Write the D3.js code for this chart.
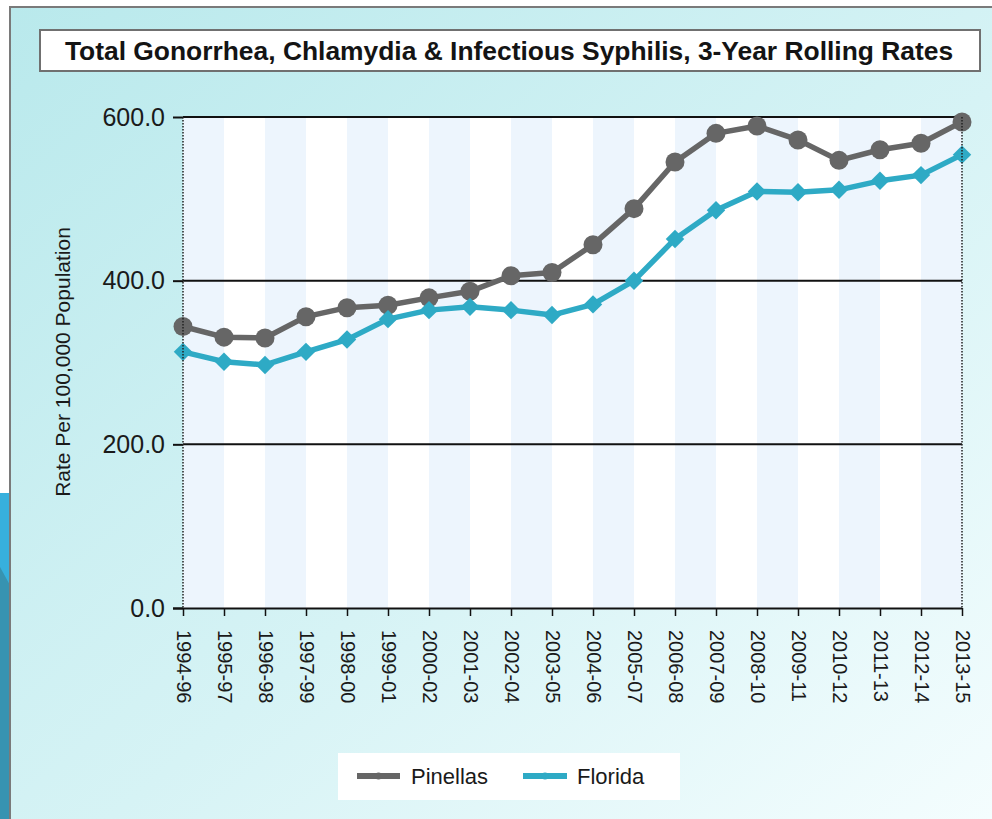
<!DOCTYPE html>
<html>
<head>
<meta charset="utf-8">
<script src="https://cdn.jsdelivr.net/npm/d3@7"></script>
<style>
  html, body { margin: 0; padding: 0; background: #ffffff; }
  svg { display: block; font-family: "Liberation Sans", Arial, sans-serif; }
</style>
</head>
<body>
<svg id="chart" width="992" height="819"></svg>
<script>
const titleText = "Total Gonorrhea, Chlamydia & Infectious Syphilis, 3-Year Rolling Rates";
const yAxisLabel = "Rate Per 100,000 Population";
const categories = ["1994-96","1995-97","1996-98","1997-99","1998-00","1999-01","2000-02","2001-03","2002-04","2003-05","2004-06","2005-07","2006-08","2007-09","2008-10","2009-11","2010-12","2011-13","2012-14","2013-15"];
const pinellas = [344, 331, 330, 356, 367, 370, 379, 387, 406, 410, 444, 488, 545, 580, 589, 572, 547, 560, 568, 594];
const florida  = [313, 301, 297, 313, 328, 353, 364, 368, 364, 358, 371, 400, 451, 486, 509, 508, 511, 522, 529, 554];
const yTicks = [0, 200, 400, 600];
const seriesNames = ["Pinellas", "Florida"];
const seriesColors = ["#666666", "#2eaac5"];

const svg = d3.select("#chart");
const W = 992, H = 819;
const plot = { left: 183, right: 962, top: 117, bottom: 608 };

// defs: background gradient
const defs = svg.append("defs");
const grad = defs.append("linearGradient").attr("id", "bg")
  .attr("x1", "0").attr("y1", "0").attr("x2", "1").attr("y2", "1");
grad.append("stop").attr("offset", "0%").attr("stop-color", "#b9e9ec");
grad.append("stop").attr("offset", "55%").attr("stop-color", "#d6f3f5");
grad.append("stop").attr("offset", "100%").attr("stop-color", "#f4fdfe");

// left decoration outside the frame
svg.append("rect").attr("x", 0).attr("y", 493).attr("width", 11).attr("height", 326).attr("fill", "#37b0dd");
svg.append("path").attr("d", "M0,567 L11,587 L11,819 L0,819 Z").attr("fill", "#3793b1");

// panel
svg.append("rect").attr("x", 11).attr("y", 7).attr("width", W - 11).attr("height", H - 7).attr("fill", "url(#bg)");
svg.append("line").attr("x1", 10).attr("x2", W).attr("y1", 7).attr("y2", 7).attr("stroke", "#7a7a7a").attr("stroke-width", 2);
svg.append("line").attr("x1", 10).attr("x2", 10).attr("y1", 6).attr("y2", H).attr("stroke", "#7a7a7a").attr("stroke-width", 2);

// title box
svg.append("rect").attr("x", 40).attr("y", 30).attr("width", 940).attr("height", 41)
  .attr("fill", "#ffffff").attr("stroke", "#707070").attr("stroke-width", 2);
svg.append("text").attr("x", 509).attr("y", 51).attr("dy", "0.35em").attr("text-anchor", "middle")
  .attr("font-size", 26.4).attr("font-weight", "bold").attr("fill", "#141414").text(titleText);

// scales
const x = d3.scalePoint().domain(categories).range([plot.left, plot.right]);
const y = d3.scaleLinear().domain([0, 600]).range([plot.bottom, plot.top]);

// plot background and stripes
svg.append("rect").attr("x", plot.left).attr("y", plot.top).attr("width", plot.right - plot.left)
  .attr("height", plot.bottom - plot.top).attr("fill", "#ffffff");
const stripeIdx = d3.range(0, categories.length - 1).filter(i => i % 2 === 0);
svg.append("g").selectAll("rect").data(stripeIdx).join("rect")
  .attr("x", i => x(categories[i]))
  .attr("width", i => x(categories[i + 1]) - x(categories[i]))
  .attr("y", plot.top).attr("height", plot.bottom - plot.top)
  .attr("fill", "#edf5fd");

// y axis with gridlines
const yAxis = d3.axisLeft(y).tickValues(yTicks).tickFormat(d3.format(".1f")).tickSize(10).tickPadding(8);
const yg = svg.append("g").attr("transform", `translate(${plot.left},0)`).call(yAxis);
yg.select(".domain").remove();
yg.selectAll(".tick line").attr("stroke", "#111").attr("stroke-width", 2);
yg.selectAll(".tick text").attr("font-size", 25).attr("fill", "#1a1a1a")
  .attr("font-family", "'Liberation Sans', Arial, sans-serif");
svg.append("g").selectAll("line").data(yTicks.filter(d => d > 0)).join("line")
  .attr("x1", plot.left).attr("x2", plot.right)
  .attr("y1", d => y(d)).attr("y2", d => y(d))
  .attr("stroke", "#111").attr("stroke-width", 2);

// x axis
const xAxis = d3.axisBottom(x).tickSize(8).tickSizeOuter(0);
const xg = svg.append("g").attr("transform", `translate(0,${plot.bottom})`).call(xAxis);
xg.select(".domain").attr("stroke", "#111").attr("stroke-width", 2)
  .attr("d", `M${plot.left - 10},0.5H${plot.right}`);
xg.selectAll(".tick line").attr("stroke", "#111").attr("stroke-width", 1.5);
xg.selectAll(".tick text")
  .attr("font-size", 20).attr("fill", "#1a1a1a")
  .attr("font-family", "'Liberation Sans', Arial, sans-serif")
  .attr("text-anchor", "start")
  .attr("transform", "translate(0,22) rotate(90)")
  .attr("x", 0).attr("y", 0).attr("dy", "0.35em");

// y axis label
svg.append("text").attr("transform", "translate(70,362) rotate(-90)")
  .attr("text-anchor", "middle").attr("font-size", 21).attr("fill", "#1a1a1a").text(yAxisLabel);

// series
const line = d3.line().x((d, i) => x(categories[i])).y(d => y(d));
// Pinellas
svg.append("path").datum(pinellas).attr("d", line).attr("fill", "none")
  .attr("stroke", seriesColors[0]).attr("stroke-width", 5.5).attr("stroke-linejoin", "round");
svg.append("g").selectAll("circle").data(pinellas).join("circle")
  .attr("cx", (d, i) => x(categories[i])).attr("cy", d => y(d)).attr("r", 9.5)
  .attr("fill", seriesColors[0]);
// Florida
svg.append("path").datum(florida).attr("d", line).attr("fill", "none")
  .attr("stroke", seriesColors[1]).attr("stroke-width", 5.5).attr("stroke-linejoin", "round");
svg.append("g").selectAll("path").data(florida).join("path")
  .attr("d", d3.symbol().type(d3.symbolSquare).size(170))
  .attr("transform", (d, i) => `translate(${x(categories[i])},${y(d)}) rotate(45)`)
  .attr("fill", seriesColors[1]);

// dotted plot edges
svg.append("g").selectAll("line").data([plot.left, plot.right]).join("line")
  .attr("x1", d => d).attr("x2", d => d).attr("y1", plot.top).attr("y2", plot.bottom)
  .attr("stroke", "#222").attr("stroke-width", 1.5).attr("stroke-dasharray", "1.5,1.5");

// legend
const lg = svg.append("g");
lg.append("rect").attr("x", 338).attr("y", 753).attr("width", 342).attr("height", 47).attr("fill", "#ffffff");
const legendItems = [
  { name: seriesNames[0], color: seriesColors[0], x1: 357, x2: 400, tx: 411 },
  { name: seriesNames[1], color: seriesColors[1], x1: 523, x2: 567, tx: 577 }
];
legendItems.forEach(it => {
  lg.append("line").attr("x1", it.x1).attr("x2", it.x2).attr("y1", 776).attr("y2", 776)
    .attr("stroke", it.color).attr("stroke-width", 6);
  lg.append("circle").attr("cx", (it.x1 + it.x2) / 2).attr("cy", 776).attr("r", 3.5).attr("fill", it.color);
  lg.append("text").attr("x", it.tx).attr("y", 776).attr("dy", "0.35em")
    .attr("font-size", 22).attr("fill", "#1a1a1a").text(it.name);
});
</script>
</body>
</html>
